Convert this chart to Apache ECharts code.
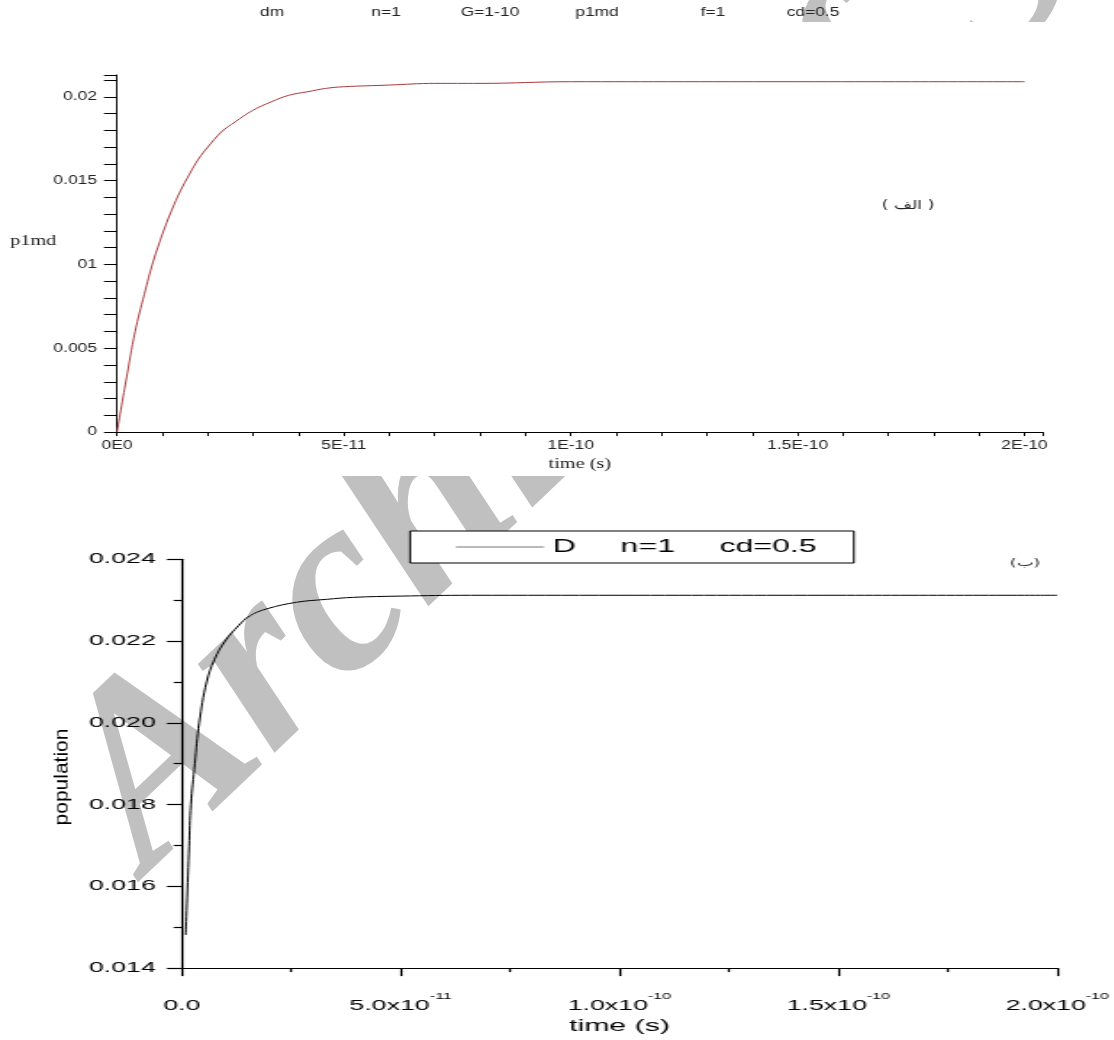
<!DOCTYPE html>
<html>
<head>
<meta charset="utf-8">
<title>p1md / population</title>
<script src="https://cdn.jsdelivr.net/npm/echarts@6/dist/echarts.min.js"></script>
<style>
  html, body { margin: 0; padding: 0; background: #fff; }
  #wrap { position: relative; width: 1114px; height: 1040px; overflow: hidden; }
  #mark { position: absolute; left: 0; top: 0; width: 1114px; height: 1040px; z-index: 0; }
  #top { position: absolute; left: 0; top: 0; height: 476px; transform-origin: 0 0; z-index: 1; }
  #bot { position: absolute; left: 0; top: 476px; height: 564px; transform-origin: 0 0; z-index: 1; }
</style>
</head>
<body>
<div id="wrap">
  <div id="mark"></div>
  <div id="top"></div>
  <div id="bot"></div>
</div>
<script>
// (a) p1md, time in ps
var topTime = [0, 2, 4, 6, 8, 10, 12, 14, 16, 18, 20, 23, 26, 30, 34, 38, 42, 46, 50, 60, 70, 80, 100, 125, 150, 175, 200];
var topValue = [0, 0.0031, 0.0060, 0.0082, 0.0102, 0.0118, 0.0132, 0.0144, 0.0154, 0.0163, 0.0170, 0.0179, 0.0185,
  0.0192, 0.0197, 0.0201, 0.0203, 0.0205, 0.0206, 0.0207, 0.0208, 0.0208, 0.0209, 0.0209, 0.0209, 0.0209, 0.0209];
var topXTicks = [0, 50, 100, 150, 200];
var topXLabels = ["0E0", "5E-11", "1E-10", "1.5E-10", "2E-10"];
var topYTicks = [0, 0.005, 0.01, 0.015, 0.02];
var topYLabels = ["0", "0.005", "01", "0.015", "0.02"];
var topTitles = ["dm", "n=1", "G=1-10", "p1md", "f=1", "cd=0.5"];

// (b) population D, time in ps
var botTime = [0.9, 1.7, 2.1, 3.0, 4.0, 5.7, 7.5, 9.9, 13, 15.6, 19.5, 26.3, 33, 39.3, 50, 66, 100, 150, 200];
var botValue = [0.01481, 0.01698, 0.0180, 0.0190, 0.0200, 0.0210, 0.02155, 0.0220, 0.02238, 0.02262, 0.02279,
  0.02295, 0.02302, 0.02307, 0.0231, 0.02312, 0.02312, 0.02312, 0.02312];
var botXTicks = [0, 50, 100, 150, 200];
var botXMant = ["0.0", "5.0", "1.0", "1.5", "2.0"];
var botXExp = ["", "-11", "-10", "-10", "-10"];
var botLegend = "D     n=1     cd=0.5";

// the two source plots are stretched sideways
var SX_T = 1.45, SX_B = 1.78;
function tx(x) { return x / SX_T; }
function bx(x) { return x / SX_B; }

var page = {
  init: function() {
    var t = document.getElementById("top");
    t.style.width = tx(1114) + "px";
    t.style.transform = "scaleX(" + SX_T + ")";
    var b = document.getElementById("bot");
    b.style.width = bx(1114) + "px";
    b.style.transform = "scaleX(" + SX_B + ")";
    page.mark();
    page.topChart();
    page.botChart();
  },
  mark: function() {
    var chart = echarts.init(document.getElementById("mark"));
    chart.setOption({
      animation: false,
      graphic: [{
        type: "text", x: 190, y: 918, rotation: 0.76, silent: true,
        style: {
          text: "Archive of SID", font: 'italic bold 255px "Liberation Serif"',
          fill: "#c0c0c0", textAlign: "left", textVerticalAlign: "bottom"
        }
      }]
    });
  },
  topChart: function() {
    var chart = echarts.init(document.getElementById("top"));
    var titleX = [272, 386, 490, 597, 713, 813];
    var graphic = [{
      type: "rect", z: -10, silent: true,
      shape: { x: 0, y: 22, width: tx(1114), height: 476 - 22 },
      style: { fill: "#fff" }
    }];
    for (var i = 0; i < topTitles.length; i++) {
      graphic.push({
        type: "text", x: tx(titleX[i]), y: 13,
        style: { text: topTitles[i], font: '12px "Liberation Sans"', fill: "#222", textAlign: "center", textVerticalAlign: "middle" }
      });
    }
    graphic.push({
      type: "text", x: tx(10), y: 241,
      style: { text: "p1md", font: '14px "Liberation Serif"', fill: "#222", textAlign: "left", textVerticalAlign: "middle" }
    });
    graphic.push({
      type: "text", x: tx(908), y: 206,
      style: { text: "( الف )", font: '12px "DejaVu Sans"', fill: "#222", textAlign: "center", textVerticalAlign: "middle" }
    });
    chart.setOption({
      animation: false,
      graphic: graphic,
      grid: { left: tx(117), right: tx(1114 - 1043), top: 75, bottom: 476 - 441.7 },
      xAxis: {
        type: "value", min: 0, max: 204, interval: 10,
        name: "time (s)", nameLocation: "middle", nameGap: 17,
        nameTextStyle: { fontFamily: "Liberation Serif", fontSize: 14, color: "#222" },
        axisLine: { lineStyle: { color: "#000", width: 1 } },
        axisTick: { length: 4, lineStyle: { color: "#000" } },
        splitLine: { show: false },
        axisLabel: {
          margin: 8, fontSize: 12, fontFamily: "Liberation Sans", color: "#222",
          formatter: function(v) {
            var i = topXTicks.indexOf(Math.round(v));
            return i < 0 ? "" : topXLabels[i];
          }
        }
      },
      yAxis: {
        type: "value", min: 0, max: 0.0213, interval: 0.001,
        axisLine: { show: true, lineStyle: { color: "#000", width: 1 } },
        axisTick: { show: true, length: tx(13), lineStyle: { color: "#000" } },
        splitLine: { show: false },
        axisLabel: {
          margin: tx(20), fontSize: 12, fontFamily: "Liberation Sans", color: "#222",
          formatter: function(v) {
            for (var i = 0; i < topYTicks.length; i++) {
              if (Math.abs(topYTicks[i] - v) < 1e-6) return topYLabels[i];
            }
            return "";
          }
        }
      },
      series: [{
        type: "line", showSymbol: false, smooth: 0.4,
        lineStyle: { color: "#a8383a", width: 1 },
        data: topTime.map(function(t, i) { return [t, topValue[i]]; })
      }]
    });
  },
  botChart: function() {
    var chart = echarts.init(document.getElementById("bot"));
    chart.setOption({
      animation: false,
      graphic: [{
        type: "text", x: bx(62), y: 777 - 476, rotation: Math.PI / 2, scaleX: 2.1,
        style: { text: "population", font: '10px "Liberation Sans"', fill: "#000", textAlign: "center", textVerticalAlign: "middle" }
      }, {
        type: "text", x: bx(1025), y: 563 - 476,
        style: { text: "(ب)", font: '10px "DejaVu Sans"', fill: "#222", textAlign: "center", textVerticalAlign: "middle" }
      }],
      legend: {
        left: bx(410), top: 531 - 476,
        padding: [7, 21, 7, bx(456 - 410)],
        backgroundColor: "#fff",
        borderColor: "#000", borderWidth: 1,
        itemWidth: bx(88), itemHeight: 1, icon: "rect",
        itemStyle: { color: "#777" },
        textStyle: { fontSize: 18, fontFamily: "Liberation Sans", color: "#000" },
        data: [botLegend]
      },
      grid: { left: bx(181.7), right: bx(1114 - 1057), top: 559.3 - 476, bottom: 1040 - 973.3 },
      xAxis: {
        type: "value", min: 0, max: 200, interval: 50,
        name: "time (s)", nameLocation: "middle", nameGap: 46,
        nameTextStyle: { fontFamily: "Liberation Sans", fontSize: 17, color: "#000" },
        axisLine: { lineStyle: { color: "#000", width: 1.2 } },
        axisTick: { length: 8, lineStyle: { color: "#000", width: 1.2 } },
        minorTick: { show: true, splitNumber: 2, length: 4, lineStyle: { color: "#000", width: 1.2 } },
        splitLine: { show: false },
        axisLabel: {
          margin: 19,
          formatter: function(v) {
            var i = botXTicks.indexOf(Math.round(v));
            if (i < 0) return "";
            if (!botXExp[i]) return "{a|" + botXMant[i] + "}";
            return "{a|" + botXMant[i] + "x10}{b|" + botXExp[i] + "}";
          },
          rich: {
            a: { fontSize: 15, lineHeight: 26, verticalAlign: "bottom", fontFamily: "Liberation Sans", color: "#000" },
            b: { fontSize: 9, lineHeight: 9, verticalAlign: "top", padding: [5, 0, 0, 0], fontFamily: "Liberation Sans", color: "#000" }
          }
        }
      },
      yAxis: {
        type: "value", min: 0.014, max: 0.024, interval: 0.002,
        axisLine: { show: true, lineStyle: { color: "#000", width: 1.2 } },
        axisTick: { show: true, length: bx(15), lineStyle: { color: "#000", width: 1.2 } },
        minorTick: { show: true, splitNumber: 2, length: bx(8), lineStyle: { color: "#000", width: 1.2 } },
        splitLine: { show: false },
        axisLabel: {
          margin: bx(26), fontSize: 15, fontFamily: "Liberation Sans", color: "#000",
          formatter: function(v) { return v.toFixed(3); }
        }
      },
      series: [{
        name: botLegend, type: "line", showSymbol: false, smooth: 0.4,
        lineStyle: { color: "#000", width: 1 },
        data: botTime.map(function(t, i) { return [t, botValue[i]]; })
      }]
    });
  }
};
page.init();
</script>
</body>
</html>
